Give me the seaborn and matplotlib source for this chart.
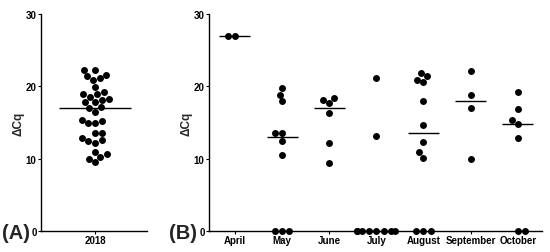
import numpy as np
import pandas as pd
import matplotlib
matplotlib.use("Agg")
import matplotlib.pyplot as plt
import seaborn as sns
import warnings
warnings.filterwarnings("ignore")

# ---- data ----
year_label = "2018"
year_values = [22.2, 22.3, 21.4, 21.6, 21.1, 20.8, 19.9, 18.9, 18.9, 19.2, 18.5,
               18.1, 17.8, 17.8, 18.2, 17.0, 17.1, 16.5, 15.2, 15.4, 14.9, 14.9,
               13.6, 13.5, 12.6, 12.9, 12.2, 12.5, 10.9, 10.6, 10.2, 10.0, 9.5]

months = ["April", "May", "June", "July", "August", "September", "October"]
april = [27.0, 27.0]
may = [19.8, 18.8, 17.9, 13.5, 13.5, 12.5, 10.5, 0, 0, 0]
june = [18.4, 18.1, 17.7, 16.3, 12.2, 9.4]
july = [21.2, 13.1, 0, 0, 0, 0, 0, 0, 0, 0]
august = [21.9, 21.4, 20.9, 20.6, 18.0, 14.7, 12.3, 10.9, 10.1, 0, 0, 0]
september = [22.1, 18.8, 17.0, 10.0]
october = [19.2, 16.9, 15.4, 14.8, 12.8, 0, 0]
month_values = [april, may, june, july, august, september, october]

yticks = [0, 10, 20, 30]
ylabel = "\u0394Cq"

# ---- tables ----
dfA = pd.DataFrame({"group": year_label, "value": year_values})
dfB = pd.DataFrame({
    "group": np.concatenate([[m] * len(v) for m, v in zip(months, month_values)]),
    "value": np.concatenate(month_values),
})

sns.set_theme(style="ticks")
plt.rcParams["font.family"] = ["Liberation Sans", "DejaVu Sans"]

fig = plt.figure(figsize=(5.5, 2.53), dpi=100)
axA = fig.add_axes([0.0745, 0.083, 0.193, 0.858])
axB = fig.add_axes([0.380, 0.083, 0.605, 0.858])

dot = 5.0
sns.swarmplot(data=dfA, x="group", y="value", ax=axA, color="black", size=dot,
              order=[year_label], linewidth=0)
sns.swarmplot(data=dfB, x="group", y="value", ax=axB, color="black", size=dot,
              order=months, linewidth=0)

# medians
medA = np.median(year_values)
axA.hlines(medA, -0.34, 0.34, color="black", lw=1.0, zorder=3)
for i, v in enumerate(month_values):
    axB.hlines(np.median(v), i - 0.33, i + 0.33, color="black", lw=1.0, zorder=3)

for ax in (axA, axB):
    for c in ax.collections:
        c.set_clip_on(False)
    ax.set_ylim(0, 30)
    ax.set_yticks(yticks)
    ax.set_yticklabels([str(t) for t in yticks], fontsize=7, fontweight="bold")
    ax.set_ylabel(ylabel, fontsize=8.5, fontweight="bold", labelpad=1)
    ax.set_xlabel("")
    for lab in ax.get_xticklabels():
        lab.set_fontsize(7)
        lab.set_fontweight("bold")
    sns.despine(ax=ax)
    ax.spines["left"].set_linewidth(1.0)
    ax.spines["bottom"].set_linewidth(1.0)
    ax.spines["left"].set_color("black")
    ax.spines["bottom"].set_color("black")
    ax.tick_params(axis="both", length=2.0, width=0.8, pad=1.2, colors="black")

axA.set_xlim(-0.51, 0.49)
axB.set_xlim(-0.55, 6.51)

fig.text(0.004, 0.078, "(A)", fontsize=14.5, fontweight="bold", ha="left", va="center")
fig.text(0.307, 0.078, "(B)", fontsize=14.5, fontweight="bold", ha="left", va="center")

fig.savefig("out.png", dpi=100, facecolor="white")
